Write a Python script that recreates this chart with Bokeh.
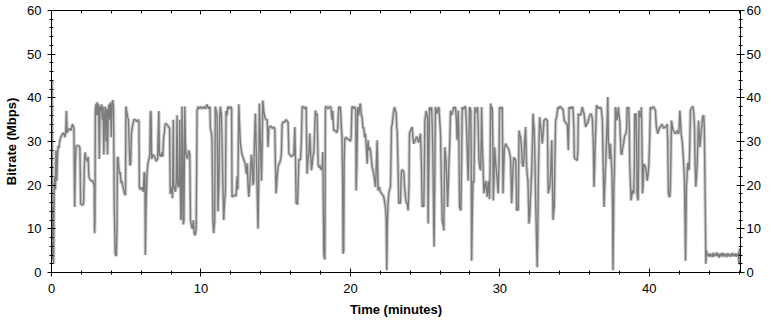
from bokeh.plotting import figure
from bokeh.models import Range1d, LinearAxis, SingleIntervalTicker, ColumnDataSource, CustomJSTickFormatter
from bokeh.embed import file_html
from bokeh.resources import INLINE

# ---- data: (time in minutes, bitrate in Mbps) ----
seg_00_03 = [(0.00,18),(0.03,44),(0.06,3),(0.10,15),(0.14,2),(0.18,20),(0.22,22),(0.26,19),(0.30,28),(0.35,21),
             (0.40,27),(0.45,29),(0.50,28.5),(0.55,30),(0.62,31),(0.70,31.5),(0.80,32),(0.90,31),(0.95,32),(1.00,37),
             (1.05,32),(1.10,32.5),(1.20,33),(1.30,32.5),(1.40,34),(1.45,33.5),(1.50,33),(1.55,15),(1.60,25),(1.65,29),
             (1.75,29),(1.85,29),(1.90,28.5),(1.95,16),(2.00,15.5),(2.10,15.5),(2.15,16),(2.20,25),(2.25,27.5),(2.30,26),
             (2.40,25.5),(2.45,26.5),(2.50,22),(2.55,21.5),(2.65,21),(2.75,21),(2.80,20.5),(2.86,20),(2.88,9),(2.91,12)]
seg_03_05 = [(2.93,37),(2.97,38.5),(3.00,36),(3.05,39),(3.10,36),(3.15,38.5),(3.20,26),(3.25,38),(3.30,37),(3.35,38.5),
             (3.40,35),(3.45,38),(3.50,27),(3.55,36),(3.60,38),(3.65,30),(3.70,37.5),(3.75,27),(3.80,37),(3.85,38.5),
             (3.90,35),(3.95,39),(4.00,31),(4.05,38.5),(4.10,39.5),(4.15,38),(4.20,15),(4.26,4.5),(4.30,3.8),(4.34,4),
             (4.38,10),(4.41,26),(4.45,26.5),(4.50,24),(4.55,22.5),(4.60,23),(4.65,20.5),(4.70,21),(4.75,20),(4.80,19.5),
             (4.85,18.5),(4.90,18),(4.95,17.7)]
seg_05_09 = [(4.98,38),(5.05,36.5),(5.10,35.5),(5.15,35),(5.20,29),(5.25,24.5),(5.30,25),(5.35,32),(5.40,33),(5.50,35),
             (5.60,35),(5.70,34.5),(5.80,35),(5.85,34.5),(5.88,19.5),(5.95,19),(6.05,19.5),(6.15,18.5),(6.20,23),(6.25,22.5),
             (6.28,4),(6.32,14),(6.38,22),(6.45,25),(6.52,26),(6.58,27),(6.62,37),(6.66,36.5),(6.70,26),(6.80,27),
             (6.90,26.5),(7.00,25.5),(7.10,26),(7.18,37),(7.22,27),(7.30,26.5),(7.38,27.5),(7.45,26.5),(7.50,31),(7.55,32),
             (7.60,34),(7.70,34),(7.80,33.5),(7.90,33),(7.95,18),(8.00,19),(8.05,19.5),(8.10,17),(8.15,35),(8.18,20),
             (8.25,19),(8.30,18.5),(8.35,21),(8.40,36),(8.45,20),(8.50,19.5),(8.55,21),(8.58,35),(8.62,20),(8.66,12),
             (8.70,12.5),(8.73,38),(8.78,30),(8.82,11),(8.86,12),(8.92,38),(8.96,30),(9.00,27),(9.10,26),(9.18,28),
             (9.25,27)]
seg_09_14 = [(9.30,12),(9.35,11),(9.42,10),(9.50,12),(9.55,9),(9.62,8.5),(9.68,10),(9.74,37),(9.80,38),(9.90,37.5),
             (10.00,38),(10.10,37.5),(10.20,38),(10.30,37.5),(10.40,38.5),(10.50,37.5),(10.60,38),(10.63,33),(10.70,32),(10.74,30),
             (10.80,12),(10.85,9),(10.92,12),(10.96,38),(11.02,37),(11.08,36),(11.14,14),(11.20,20),(11.26,36),(11.30,38),
             (11.37,36),(11.42,28.5),(11.47,20),(11.52,12),(11.58,16),(11.64,19),(11.68,37),(11.74,36),(11.80,38),(11.90,37.5),
             (12.00,38),(12.05,37.5),(12.08,17.3),(12.15,17.5),(12.25,17.7),(12.35,17.5),(12.42,22),(12.47,19),(12.53,38.5),(12.58,34),
             (12.64,29.5),(12.70,28),(12.75,27),(12.85,26),(12.95,25),(13.05,22.5),(13.10,25),(13.15,20),(13.20,17.3),(13.26,20),
             (13.31,22.5),(13.37,27),(13.42,25.7),(13.48,20),(13.53,21),(13.58,30),(13.64,36.4),(13.70,28),(13.76,18.8),(13.82,10),
             (13.86,20),(13.91,38.7),(13.98,30)]
seg_14_19 = [(14.05,21),(14.10,30),(14.14,39.4),(14.20,37),(14.27,35.6),(14.35,35),(14.43,35),(14.46,32),(14.49,28.7),(14.54,33),
             (14.58,33.3),(14.68,33.5),(14.78,33),(14.87,33.3),(14.94,33),(14.98,25),(15.03,18.1),(15.10,22),(15.16,24.2),(15.25,25),
             (15.32,25.7),(15.38,27),(15.43,34),(15.50,34.5),(15.60,34.4),(15.70,35),(15.83,34.4),(15.88,27.2),(15.95,27),(16.05,26.5),
             (16.15,27),(16.21,26.8),(16.28,33.3),(16.33,25),(16.37,15.8),(16.42,16),(16.46,15.5),(16.50,20),(16.55,25.7),(16.60,26),
             (16.66,25.7),(16.72,30),(16.77,37.9),(16.85,38),(16.95,37.5),(17.04,38),(17.10,22.6),(17.16,26),(17.22,27.2),(17.28,31.8),
             (17.33,28),(17.39,23.4),(17.45,25),(17.50,27),(17.55,27.2),(17.60,32),(17.66,37.1),(17.72,36),(17.77,36.4),(17.84,24.9),
             (17.90,24),(17.96,24.5),(18.03,23.5),(18.11,24),(18.15,27.6),(18.19,15),(18.22,4.3),(18.27,3),(18.29,3.5),(18.33,37.9),
             (18.40,38),(18.50,37.5),(18.60,38),(18.70,37.8),(18.77,35),(18.82,37),(18.88,32.5),(19.00,32.5),(19.10,32),(19.15,33),
             (19.22,38),(19.28,37.5),(19.33,38),(19.40,33),(19.44,31),(19.48,20),(19.51,4.3),(19.55,5),(19.58,25)]
seg_19_24 = [(19.62,30.5),(19.70,31),(19.80,30.5),(19.90,30.5),(20.00,30),(20.05,31),(20.10,37.9),(20.15,38),(20.22,37.5),(20.30,38),
             (20.36,37),(20.38,18.8),(20.43,25),(20.49,37.9),(20.55,36),(20.62,38),(20.67,38.7),(20.73,36),(20.78,35.6),(20.84,33),
             (20.89,33.3),(20.95,31),(21.00,31.8),(21.06,29),(21.12,24.9),(21.18,30.3),(21.22,28),(21.27,28.7),(21.34,28),(21.40,26),
             (21.45,24.2),(21.50,23.5),(21.56,22.6),(21.62,21),(21.68,19.6),(21.74,25),(21.79,30.3),(21.85,18.8),(21.90,19),(21.94,19.6),
             (22.00,18.5),(22.08,18.1),(22.15,17.8),(22.23,17.3),(22.30,16),(22.34,15),(22.39,12.7),(22.43,0.5),(22.46,8),(22.48,12),
             (22.52,16),(22.57,18.1),(22.62,19),(22.68,19.6),(22.75,33.3),(22.80,34),(22.84,35.6),(22.90,37),(22.95,37.9),(23.00,37),
             (23.06,36.7),(23.10,33),(23.13,32.5),(23.18,25),(23.24,15.8),(23.30,16),(23.35,15.8),(23.38,20),(23.42,23.4),(23.50,23.5),
             (23.57,23),(23.62,20),(23.68,17.3),(23.74,16),(23.80,15.8),(23.86,14.2),(23.92,20),(23.95,31.8)]
seg_24_28 = [(24.02,32.5),(24.08,33),(24.13,33.3),(24.18,31),(24.24,29.5),(24.30,30),(24.35,30.3),(24.41,31),(24.47,31),(24.52,30),
             (24.58,29.8),(24.64,31),(24.69,31.8),(24.75,25),(24.80,15),(24.86,15.5),(24.91,15),(24.95,25),(24.98,34.8),(25.03,36),
             (25.07,37),(25.12,36),(25.16,35.6),(25.20,11.2),(25.25,25),(25.29,37.9),(25.33,37),(25.36,37.5),(25.40,37),(25.43,37.9),
             (25.48,33),(25.51,28.7),(25.56,15),(25.60,5.9),(25.64,20),(25.69,37.9),(25.75,37),(25.80,36.4),(25.86,37.5),(25.92,37.9),
             (25.97,35),(26.03,31.8),(26.08,22),(26.14,12),(26.20,11),(26.25,9.6),(26.28,20),(26.32,28.7),(26.36,27),(26.41,24.9),
             (26.46,20),(26.50,15),(26.55,20),(26.59,24.9),(26.65,30),(26.70,37.1),(26.75,36),(26.81,36.4),(26.86,37),(26.92,37.9),
             (26.97,37.5),(27.03,37.9),(27.09,35),(27.14,30.3),(27.18,33),(27.21,37.1),(27.26,30),(27.30,15),(27.35,14.5),(27.39,14.2),
             (27.44,25),(27.48,37.9),(27.54,37.5),(27.59,37.5),(27.65,38),(27.70,37.9),(27.75,35),(27.79,31),(27.84,25),(27.88,21),
             (27.93,30),(27.97,37.9)]
seg_28_33 = [(28.02,37.5),(28.06,37),(28.09,20),(28.11,2.7),(28.15,12),(28.20,21),(28.26,20.5),(28.30,30),(28.33,37.9),(28.38,36.5),
             (28.42,37.1),(28.47,37.5),(28.51,37.9),(28.56,32),(28.60,25.7),(28.66,24),(28.71,23.4),(28.75,30),(28.78,37.9),(28.82,30),
             (28.87,24.9),(28.93,18.1),(29.00,20),(29.05,21),(29.10,19),(29.16,17.3),(29.22,21),(29.27,19),(29.31,16.8),(29.35,25),
             (29.38,38.7),(29.44,37.5),(29.49,37.9),(29.53,30),(29.56,16.5),(29.61,22),(29.65,28.7),(29.72,24.9),(29.78,23),(29.83,21),
             (29.89,18.1),(29.94,25),(29.98,37.9),(30.03,37.5),(30.07,37.9),(30.12,37.5),(30.16,37.9),(30.21,18.1),(30.26,24),(30.30,28.7),
             (30.35,29),(30.39,29.5),(30.45,29),(30.50,28.7),(30.55,28.5),(30.61,28),(30.67,27),(30.72,25.7),(30.76,20),(30.79,15.8),
             (30.84,20),(30.88,24.2),(30.94,26.4),(31.00,26),(31.06,25.7),(31.10,20),(31.12,14.2),(31.18,14.5),(31.23,14.2),(31.28,32.5),
             (31.34,31.5),(31.39,31),(31.46,28),(31.50,25),(31.55,24.2),(31.61,25.7),(31.66,30),(31.72,33.3),(31.76,28),(31.79,24.2),
             (31.84,22),(31.88,21),(31.92,15),(31.95,11.2),(32.00,13),(32.04,16.5),(32.09,20),(32.13,23.4),(32.18,30),(32.22,36.4),
             (32.26,34),(32.30,32.5),(32.35,25),(32.39,17.3),(32.45,8),(32.50,1.2),(32.54,10),(32.57,21),(32.62,30),(32.66,35.6),
             (32.70,34),(32.75,33.3),(32.80,31),(32.84,29.5),(32.90,32),(32.95,34.8)]
seg_33_38 = [(33.00,35),(33.06,35.2),(33.12,35),(33.18,34.8),(33.21,25),(33.24,18.1),(33.29,19),(33.33,19.6),(33.37,21),(33.40,22.6),
             (33.44,27),(33.47,30.3),(33.51,22),(33.56,12),(33.60,14),(33.64,15),(33.68,25),(33.73,34.8),(33.77,35.3),(33.80,35.6),
             (33.85,37),(33.89,37.9),(33.95,37.5),(34.00,38),(34.07,37.9),(34.15,37.5),(34.22,37.5),(34.27,36),(34.31,34.8),(34.36,34.5),
             (34.40,34.4),(34.45,34),(34.51,34),(34.55,31),(34.58,28),(34.61,33),(34.63,37.9),(34.68,37.5),(34.74,37.9),(34.80,37.5),
             (34.85,38),(34.90,37.5),(34.95,33),(34.98,26.4),(35.03,26),(35.07,26),(35.12,25.8),(35.18,25.7),(35.22,28),(35.25,36.4),
             (35.30,36),(35.35,36.2),(35.41,36),(35.46,37),(35.52,37.9),(35.57,37),(35.63,36.4),(35.68,35),(35.74,33.3),(35.80,34),
             (35.85,34),(35.90,34.5),(35.97,35.6),(36.02,36),(36.08,36.4),(36.14,36),(36.19,35),(36.25,30),(36.30,19.6),(36.34,24),
             (36.37,28.7),(36.42,33),(36.46,38.3),(36.52,38),(36.58,37.5),(36.64,37.9),(36.70,37.5),(36.75,37.9),(36.80,37),(36.86,34.8),
             (36.91,25),(36.97,15),(37.00,18),(37.04,21.9),(37.08,25),(37.13,29.5),(37.18,35),(37.22,40.2),(37.26,30),(37.30,28.7),
             (37.35,26),(37.40,29.5),(37.45,26),(37.50,22.6),(37.54,15),(37.57,0.5),(37.60,10),(37.63,20),(37.66,22.6),(37.70,30),
             (37.73,37.9),(37.78,37),(37.84,34.8),(37.88,36),(37.93,37.9),(37.97,36)]
seg_38_44 = [(38.02,34.8),(38.06,31),(38.11,27.2),(38.16,27),(38.22,28.7),(38.28,29.5),(38.33,31),(38.38,31.5),(38.44,31.8),(38.48,33),
             (38.51,37.9),(38.56,37.5),(38.62,37.9),(38.66,33),(38.69,24.9),(38.74,20),(38.78,16.5),(38.82,17.5),(38.87,18.8),(38.92,18.5),
             (38.96,18.1),(39.00,25),(39.02,36.4),(39.06,36),(39.11,36.4),(39.15,30),(39.18,18.1),(39.22,17),(39.25,16.5),(39.28,25),
             (39.31,37.1),(39.36,36),(39.40,35.6),(39.44,36.5),(39.47,37.9),(39.51,30),(39.54,18.1),(39.58,20),(39.63,24.9),(39.68,24.5),
             (39.74,24.2),(39.80,23),(39.85,21),(39.90,22),(39.96,24.2),(40.02,30),(40.07,37.9),(40.12,37.5),(40.18,37.5),(40.24,37.9),
             (40.30,37.9),(40.36,37.5),(40.41,37.1),(40.44,35),(40.47,33.3),(40.52,32.5),(40.56,31.8),(40.62,32.5),(40.70,33.3),(40.77,33.5),
             (40.85,34),(40.90,33.5),(40.96,33),(41.02,33.3),(41.08,33.3),(41.14,33.5),(41.19,34),(41.23,30),(41.28,18.1),(41.32,17.5),
             (41.37,17.3),(41.41,19.6),(41.45,28),(41.48,34.8),(41.54,33.5),(41.59,32.5),(41.65,32.3),(41.70,32),(41.75,31.8),(41.80,32),
             (41.86,32.5),(41.92,32),(41.97,31.8),(42.01,34),(42.04,37.1),(42.08,35),(42.13,31.8),(42.20,30),(42.26,27.2),(42.31,24),
             (42.35,21),(42.39,12),(42.42,2.7),(42.45,10),(42.48,19.6),(42.52,22),(42.57,24.9),(42.62,25),(42.66,23.4),(42.70,28),
             (42.75,37.1),(42.80,37.5),(42.86,37.9),(42.93,37.9),(42.98,36),(43.02,33.3),(43.06,25),(43.11,19.6),(43.16,22),(43.20,24.9),
             (43.25,30),(43.29,34.8),(43.33,32),(43.38,28.7),(43.42,30),(43.47,32.5),(43.52,33.5),(43.56,35.6),(43.60,35.8),(43.64,36),
             (43.68,33),(43.73,18.1),(43.76,10),(43.78,2),(43.82,5),(43.87,4.3)]
seg_44_46 = [(43.92,3.8),(43.97,4.2),(44.02,3.6),(44.07,4.4),(44.12,3.9),(44.17,4.1),(44.22,3.5),(44.27,4.5),(44.32,4.0),(44.37,3.7),
             (44.42,4.3),(44.47,3.9),(44.52,4.6),(44.57,3.8),(44.62,4.2),(44.67,3.4),(44.72,4.1),(44.77,4.4),(44.82,3.7),(44.87,4.0),
             (44.92,4.5),(44.97,3.6),(45.02,4.2),(45.07,3.9),(45.12,4.3),(45.17,3.5),(45.22,4.1),(45.27,4.4),(45.32,3.8),(45.37,4.0),
             (45.42,3.6),(45.47,4.3),(45.52,3.9),(45.57,4.5),(45.62,3.7),(45.67,4.1),(45.72,3.8),(45.77,4.4),(45.82,3.6),(45.87,4.2),
             (45.92,3.9),(45.97,4.6),(46.00,2.0),(46.03,5.5),(46.06,1.8),(46.09,4.5)]

segments = [seg_00_03, seg_03_05, seg_05_09, seg_09_14, seg_14_19, seg_19_24,
            seg_24_28, seg_28_33, seg_33_38, seg_38_44, seg_44_46]
time_min = [t for seg in segments for (t, v) in seg]
bitrate_mbps = [v for seg in segments for (t, v) in seg]

x_max = 46.1
y_max = 60

src = ColumnDataSource(data=dict(t=time_min, v=bitrate_mbps))

FONT = "Liberation Sans"

p = figure(frame_width=689, frame_height=262, output_backend="svg", toolbar_location=None,
           x_range=Range1d(0, x_max), y_range=Range1d(0, y_max),
           min_border_left=51, min_border_right=24, min_border_top=10, min_border_bottom=45)
p.background_fill_color = "white"
p.border_fill_color = "white"
p.outline_line_color = "black"
p.xgrid.visible = False
p.ygrid.visible = False

p.line("t", "v", source=src, line_color="#cfcfcf", line_width=3.5)
p.line("t", "v", source=src, line_color="#7c7c7c", line_width=1.4)

def style_axis(ax):
    ax.axis_line_color = "black"
    ax.major_tick_line_color = "black"
    ax.minor_tick_line_color = "black"
    ax.major_tick_in = 4
    ax.major_tick_out = 4
    ax.minor_tick_in = 2
    ax.minor_tick_out = 2
    ax.major_label_text_font = FONT
    ax.major_label_text_font_size = "13px"
    ax.major_label_text_color = "black"
    ax.axis_label_text_font = FONT
    ax.axis_label_text_font_size = "13px"
    ax.axis_label_text_font_style = "bold"
    ax.axis_label_text_color = "black"

p.xaxis.ticker = SingleIntervalTicker(interval=10, num_minor_ticks=5)
p.yaxis.ticker = SingleIntervalTicker(interval=10, num_minor_ticks=5)
for ax in p.xaxis + p.yaxis:
    style_axis(ax)
p.xaxis.axis_label = "Time (minutes)"
p.yaxis.axis_label = "Bitrate (Mbps)"
p.xaxis.major_label_standoff = 7
p.xaxis.axis_label_standoff = 6
p.yaxis.major_label_standoff = 6
p.yaxis.axis_label_standoff = 5

right = LinearAxis(ticker=SingleIntervalTicker(interval=10, num_minor_ticks=5))
style_axis(right)
right.major_label_standoff = 2
p.add_layout(right, "right")

top = LinearAxis(ticker=SingleIntervalTicker(interval=10, num_minor_ticks=5),
                 formatter=CustomJSTickFormatter(code="return '';"))
style_axis(top)
top.major_tick_in = 4
top.major_tick_out = 0
top.minor_tick_in = 3
top.minor_tick_out = 0
top.major_label_text_font_size = "1px"
top.major_label_standoff = 0
p.add_layout(top, "above")

open("out.html", "w").write(file_html(p, INLINE))
